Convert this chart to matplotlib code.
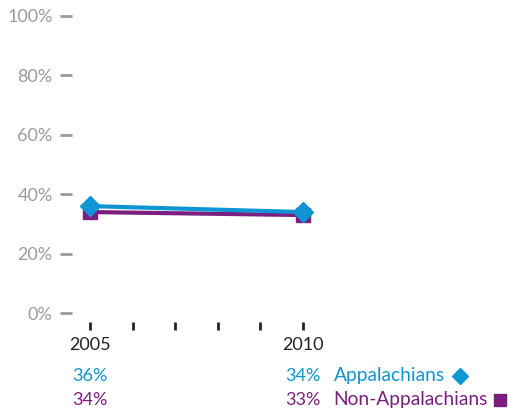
import matplotlib.pyplot as plt
from matplotlib.transforms import blended_transform_factory

plt.rcParams['font.family'] = ['Lato', 'DejaVu Sans']

years = [2005, 2006, 2007, 2008, 2009, 2010]
year_labels = ['2005', '', '', '', '', '2010']
points = [2005, 2010]
appalachians = [36, 34]
non_appalachians = [34, 33]
yticks = [0, 20, 40, 60, 80, 100]

blue = '#0f95d4'
purple = '#7a1f7f'
gray = '#9a9a9a'

fig = plt.figure(figsize=(5.1, 4.17), dpi=100)
ax = fig.add_axes([72 / 510, 95 / 417, 438 / 510, 312 / 417])

ax.plot(points, non_appalachians, color=purple, lw=3, marker='s', ms=10, zorder=3)
ax.plot(points, appalachians, color=blue, lw=3, marker='D', ms=10, zorder=4)

ax.set_xlim(2005 - 18 / 42.6, 2005 + 438 / 42.6 - 18 / 42.6)
ax.set_ylim(-3, 102)

for s in ax.spines.values():
    s.set_visible(False)

ax.set_yticks(yticks)
ax.set_yticklabels([f'{v}%' for v in yticks])
ax.tick_params(axis='y', direction='out', length=9, width=2, color=gray,
               labelcolor=gray, labelsize=13, pad=5)
ax.set_xticks(years)
ax.set_xticklabels(year_labels)
ax.tick_params(axis='x', direction='out', length=6, width=2, color='#222222',
               labelcolor='#222222', labelsize=13, pad=5)

# value rows and legend text under the chart
tr = blended_transform_factory(ax.transData, fig.transFigure)
rows = [(appalachians, blue, 'Appalachians', 41 / 417),
        (non_appalachians, purple, 'Non-Appalachians', 17 / 417)]
for vals, col, name, y in rows:
    for x, v in zip(points, vals):
        ax.text(x, y, f'{v}%', color=col, fontsize=13, ha='center', va='center',
                transform=tr)
    ax.annotate(name, xy=(points[1], y), xycoords=tr, xytext=(22, 0),
                textcoords='offset points', color=col, fontsize=13.8,
                ha='left', va='center')

ax.plot([2005 + (460 - 90) / 42.6], [41 / 417], marker='D', color=blue, ms=8,
        transform=tr, clip_on=False)
ax.plot([2005 + (500 - 90) / 42.6], [17 / 417], marker='s', color=purple, ms=9,
        transform=tr, clip_on=False)

fig.savefig('out.png', dpi=100)
